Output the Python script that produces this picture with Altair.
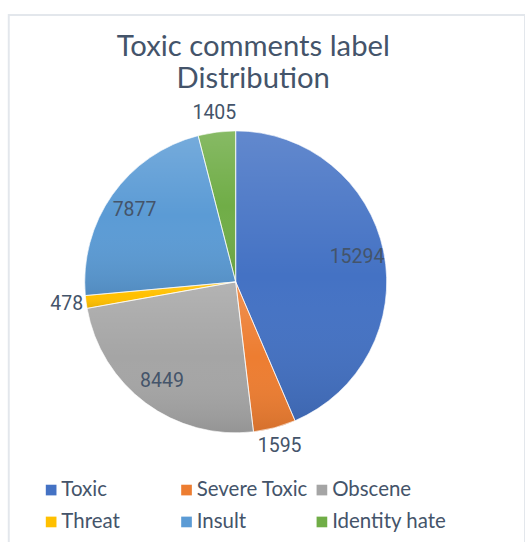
import altair as alt
import pandas as pd

# Label counts in the toxic comments dataset
labels = ["Toxic", "Severe Toxic", "Obscene", "Threat", "Insult", "Identity hate"]
counts = [15294, 1595, 8449, 478, 7877, 1405]
palette = ["#4472C4", "#ED7D31", "#A5A5A5", "#FFC000", "#5B9BD5", "#70AD47"]

TEXT = "#44546A"
R = 155  # pie radius

df = pd.DataFrame({"label": labels, "count": counts, "order": list(range(len(labels)))})

base = alt.Chart(df).transform_joinaggregate(
    total="sum(count)"
).transform_window(
    cum="sum(count)", sort=[alt.SortField("order")], frame=[None, 0]
).transform_calculate(
    share="datum.count / datum.total",
    mid="datum.cum - datum.count / 2",
    # thin slices get their label outside the pie, the rest inside
    lr=f"datum.share < 0.06 ? {R + 20} : {R * 0.82}",
)

theta = alt.Theta("count:Q", stack=True)
order = alt.Order("order:Q", sort="ascending")
cx, cy = alt.value(233), alt.value(274)

slices = base.mark_arc(outerRadius=R).encode(
    theta=theta,
    order=order,
    x=cx,
    y=cy,
    color=alt.Color(
        "label:N",
        scale=alt.Scale(domain=labels, range=palette),
        legend=alt.Legend(
            title=None,
            orient="none",
            direction="horizontal",
            legendX=33,
            legendY=477,
            columns=3,
            gridAlign="all",
            columnPadding=0,
            rowPadding=11,
            padding=0,
            symbolType="square",
            symbolSize=120,
            symbolStrokeWidth=0,
            labelFont="Lato",
            labelFontSize=21,
            labelColor=TEXT,
            labelOffset=0,
            labelLimit=200,
        ),
    ),
)

# soft top-to-bottom shading over every slice
shade = base.mark_arc(
    outerRadius=R,
    fill=alt.Gradient(
        gradient="linear",
        stops=[
            alt.GradientStop(color="rgba(255,255,255,0.16)", offset=0),
            alt.GradientStop(color="rgba(255,255,255,0)", offset=0.5),
            alt.GradientStop(color="rgba(0,0,0,0.10)", offset=1),
        ],
        x1=0, x2=0, y1=0, y2=1,
    ),
    stroke="white",
    strokeWidth=0.8,
    strokeOpacity=0.8,
).encode(theta=theta, order=order, detail="label:N", x=cx, y=cy)

# value labels at each slice's mid angle
values = base.mark_text(font="Roboto", fontSize=20, color=TEXT).encode(
    theta=alt.Theta("mid:Q"),
    x=cx,
    y=cy,
    radius=alt.Radius("lr:Q", scale=None),
    text=alt.Text("count:Q", format="d"),
)

chart = alt.layer(slices, shade, values).properties(
    width=530,
    height=545,
    title=alt.TitleParams(
        ["Toxic comments label", "Distribution"],
        font="Lato",
        fontSize=30,
        fontWeight="normal",
        color=TEXT,
        lineHeight=33,
        anchor="middle",
        offset=0,
        dx=-14,
        dy=81,
    ),
    autosize=alt.AutoSizeParams(type="none"),
    padding={"left": 9, "top": 8, "right": 0, "bottom": 0},
).configure_view(stroke="#E3E7EC", strokeWidth=2)

chart.save("out.html", embed_options={"renderer": "svg", "actions": False})
